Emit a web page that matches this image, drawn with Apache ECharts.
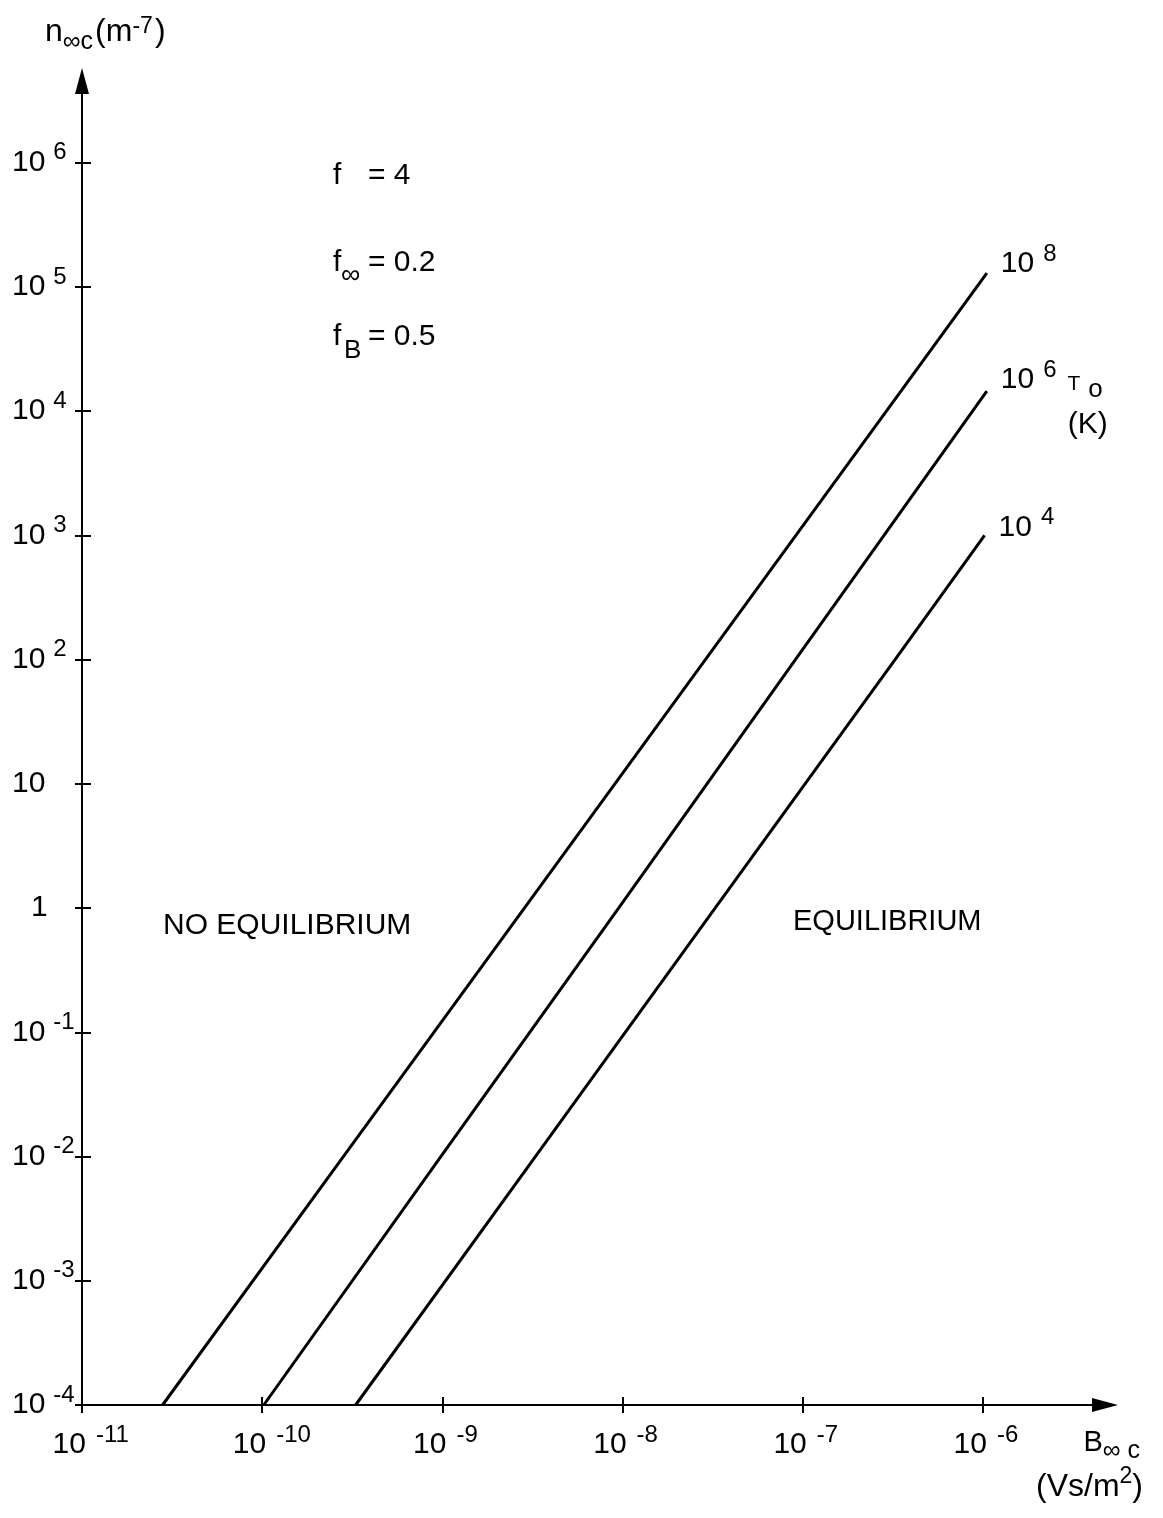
<!DOCTYPE html>
<html>
<head>
<meta charset="utf-8">
<script src="https://cdn.jsdelivr.net/npm/echarts@6/dist/echarts.min.js"></script>
<style>
  html, body { margin: 0; padding: 0; background: #fff; }
  #chart { width: 1163px; height: 1518px; }
</style>
</head>
<body>
<div id="chart"></div>
<script>
// B (Vs/m2) and n (m-7)
var bT8 = [2.8e-11, 2.82e-10, 2.85e-9, 2.88e-8, 2.91e-7, 1.05e-6];
var nT8 = [1e-4, 1e-2, 1, 100, 1e4, 1.29e5];
var bT6 = [1.02e-10, 9.8e-10, 9.5e-9, 9.1e-8, 8.75e-7, 1.05e-6];
var nT6 = [1e-4, 1e-2, 1, 100, 1e4, 1.45e4];
var bT4 = [3.3e-10, 3.28e-9, 3.26e-8, 3.25e-7, 1.02e-6];
var nT4 = [1e-4, 1e-2, 1, 100, 1000];
// decade exponents on the axes
var xTicks = [-11, -10, -9, -8, -7, -6];
var yTicks = [-4, -3, -2, -1, 0, 1, 2, 3, 4, 5, 6];
var tExp = [8, 6, 4];

var FONT = "'Liberation Sans', Arial, Helvetica, sans-serif";
var X_MIN = -11, X_MAX = -5.323;
var Y_MIN = -4, Y_MAX = 6.658;
var LH = 44; // main line height, superscripts sit at its top

// label (model) rich style
function lab(size, extra) {
  return Object.assign({ fontSize: size, fontFamily: FONT, color: '#000' }, extra || {});
}
// graphic (zrender) rich style
function gtx(size, extra) {
  return Object.assign({ font: size + 'px ' + FONT, fontSize: size, fontFamily: FONT, fill: '#000' }, extra || {});
}

function curve(bArr, nArr) {
  return bArr.map(function (b, i) {
    return [Math.log10(b), Math.log10(nArr[i])];
  });
}

var tickLine = { color: '#000', width: 2 };

var endRich = {
  big: lab(30, { lineHeight: LH }),
  sup: lab(24, { lineHeight: 10, verticalAlign: 'top' }),
  g: { width: 9 },
  g2: { width: 11 },
  g3: { width: 8 },
  T: lab(21, { lineHeight: 10, verticalAlign: 'top', padding: [16, 0, 0, 0] }),
  o: lab(26, { lineHeight: 10, verticalAlign: 'top', padding: [19, 0, 0, 0] }),
  ind: { width: 67, lineHeight: 46 },
  k: lab(30, { lineHeight: 46 })
};

function lineSeries(data, text, pad) {
  return {
    type: 'line',
    xAxisIndex: 0,
    yAxisIndex: 0,
    data: data,
    symbol: 'none',
    showSymbol: false,
    silent: true,
    lineStyle: { color: '#000', width: 3 },
    itemStyle: { color: '#000' },
    endLabel: {
      show: true,
      distance: 14,
      color: '#000',
      padding: pad,
      formatter: function () { return text; },
      rich: endRich
    }
  };
}

var chart = echarts.init(document.getElementById('chart'), null, { renderer: 'canvas' });

var option = {
  animation: false,
  backgroundColor: '#fff',
  grid: [
    { left: 82, right: 58, top: 81, bottom: 113, containLabel: false, outerBoundsMode: 'none' },
    { left: 82, right: 58, top: 81, bottom: 113, containLabel: false, outerBoundsMode: 'none' }
  ],
  xAxis: [{
    type: 'value',
    gridIndex: 0,
    min: X_MIN,
    max: X_MAX,
    axisLine: {
      show: true, onZero: false,
      symbol: ['none', 'triangle'], symbolSize: [14, 26],
      lineStyle: tickLine
    },
    axisTick: { show: true, length: 8, customValues: xTicks, lineStyle: tickLine },
    axisLabel: {
      show: true,
      customValues: xTicks,
      margin: 18,
      align: 'center',
      formatter: function (v) {
        return '{pre| }{big|10}{g| }{sup|' + v + '}';
      },
      rich: {
        pre: { width: 16.6, align: 'left' },
        big: lab(30, { lineHeight: LH, align: 'left' }),
        g: { width: 10, align: 'left' },
        sup: lab(24, { lineHeight: 10, verticalAlign: 'top', width: 32, align: 'left' })
      }
    },
    splitLine: { show: false }
  }, {
    type: 'value',
    gridIndex: 1,
    min: X_MIN,
    max: X_MAX,
    axisLine: { show: false, onZero: false },
    axisTick: { show: true, inside: true, length: 8, customValues: xTicks, lineStyle: tickLine },
    axisLabel: { show: false },
    splitLine: { show: false }
  }],
  yAxis: [{
    type: 'value',
    gridIndex: 0,
    min: Y_MIN,
    max: Y_MAX,
    axisLine: {
      show: true, onZero: false,
      symbol: ['none', 'triangle'], symbolSize: [14, 26],
      lineStyle: tickLine
    },
    axisTick: { show: true, length: 7, customValues: yTicks, lineStyle: tickLine },
    axisLabel: {
      show: true,
      customValues: yTicks,
      margin: 70,
      align: 'left',
      formatter: function (v) {
        if (v === 0) return '{p1| }{big|1}';
        if (v === 1) return '{big|10}';
        return '{big|10}{g| }{sup|' + v + '}';
      },
      rich: {
        p1: { width: 19 },
        big: lab(30, { lineHeight: LH }),
        g: { width: 8 },
        sup: lab(24, { lineHeight: 10, verticalAlign: 'top' })
      }
    },
    splitLine: { show: false }
  }, {
    type: 'value',
    gridIndex: 1,
    min: Y_MIN,
    max: Y_MAX,
    axisLine: { show: false, onZero: false },
    axisTick: { show: true, inside: true, length: 9, customValues: yTicks, lineStyle: tickLine },
    axisLabel: { show: false },
    splitLine: { show: false }
  }],
  series: [
    lineSeries(curve(bT8, nT8), '{big|10}{g| }{sup|' + tExp[0] + '}', [0, 0, 18, 0]),
    lineSeries(curve(bT6, nT6),
      '{big|10}{g| }{sup|' + tExp[1] + '}{g2| }{T|T}{g3| }{o|o}\n{ind| }{k|(K)}', [24, 0, 0, 0]),
    lineSeries(curve(bT4, nT4), '{big|10}{g| }{sup|' + tExp[2] + '}', [0, 0, 16, 0])
  ],
  graphic: [
    {
      type: 'text', x: 45, y: 32, silent: true,
      style: {
        text: '{m|n}{sub|\u221ec}{gp| }{m|(m}{sup|-7}{gp| }{m|)}',
        verticalAlign: 'middle',
        rich: {
          m: gtx(32, { lineHeight: LH }),
          sub: gtx(25, { lineHeight: 10, verticalAlign: 'top', padding: [20, 0, 0, 0] }),
          sup: gtx(23, { lineHeight: 10, verticalAlign: 'top', padding: [5, 0, 0, 0] }),
          gp: { width: 2 }
        }
      }
    },
    {
      type: 'text', x: 1140, y: 1443, silent: true,
      style: {
        text: '{m|B}{sub|\u221e c}',
        align: 'right', verticalAlign: 'middle',
        rich: {
          m: gtx(29, { lineHeight: LH }),
          sub: gtx(25, { lineHeight: 10, verticalAlign: 'top', padding: [18, 0, 0, 0] })
        }
      }
    },
    {
      type: 'text', x: 1143, y: 1487, silent: true,
      style: {
        text: '{m|(Vs/m}{sup|2}{m|)}',
        align: 'right', verticalAlign: 'middle',
        rich: {
          m: gtx(32, { lineHeight: LH }),
          sup: gtx(23, { lineHeight: 10, verticalAlign: 'top' })
        }
      }
    },
    {
      type: 'text', x: 333, y: 176, silent: true,
      style: {
        text: '{f|f}{sub| }{v|= 4}', verticalAlign: 'middle',
        rich: {
          f: gtx(30, { lineHeight: LH, width: 9 }),
          sub: gtx(26, { lineHeight: 10, verticalAlign: 'top', padding: [23, 0, 0, 0], width: 26 }),
          v: gtx(30, { lineHeight: LH })
        }
      }
    },
    {
      type: 'text', x: 333, y: 263, silent: true,
      style: {
        text: '{f|f}{sub|\u221e}{v|= 0.2}', verticalAlign: 'middle',
        rich: {
          f: gtx(30, { lineHeight: LH, width: 8 }),
          sub: gtx(27, { lineHeight: 10, verticalAlign: 'top', padding: [21, 0, 0, 0], width: 27 }),
          v: gtx(30, { lineHeight: LH })
        }
      }
    },
    {
      type: 'text', x: 333, y: 337, silent: true,
      style: {
        text: '{f|f}{sub|B}{v|= 0.5}', verticalAlign: 'middle',
        rich: {
          f: gtx(30, { lineHeight: LH, width: 11 }),
          sub: gtx(26, { lineHeight: 10, verticalAlign: 'top', padding: [23, 0, 0, 0], width: 24 }),
          v: gtx(30, { lineHeight: LH })
        }
      }
    },
    {
      type: 'text', x: 163, y: 926, silent: true,
      style: { text: 'NO EQUILIBRIUM', font: '30px ' + FONT, fill: '#000', verticalAlign: 'middle' }
    },
    {
      type: 'text', x: 793, y: 922, silent: true,
      style: { text: 'EQUILIBRIUM', font: '29px ' + FONT, fill: '#000', verticalAlign: 'middle' }
    }
  ]
};

chart.setOption(option);
</script>
</body>
</html>
